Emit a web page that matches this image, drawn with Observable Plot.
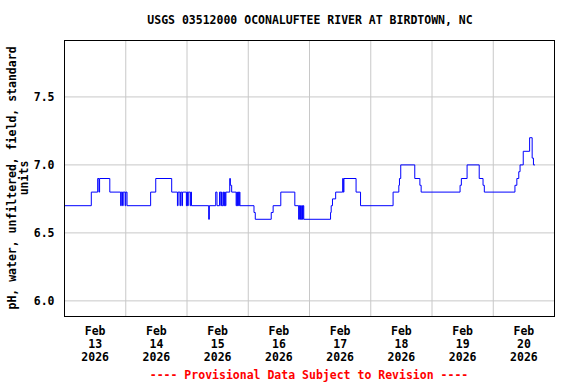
<!DOCTYPE html>
<html><head><meta charset="utf-8">
<script src="https://cdn.jsdelivr.net/npm/d3@7"></script>
<script src="https://cdn.jsdelivr.net/npm/@observablehq/plot@0.6"></script>
<style>body{margin:0;background:#fff}#chart svg{display:block}</style>
</head><body><div id="chart"></div>
<script>
const titleText = "USGS 03512000 OCONALUFTEE RIVER AT BIRDTOWN, NC";
const yLabelLines = ["pH, water, unfiltered, field, standard", "units"];
const captionText = "---- Provisional Data Subject to Revision ----";
const yTicks = [6.0, 6.5, 7.0, 7.5];
const dayLabels = ["2026-02-13","2026-02-14","2026-02-15","2026-02-16","2026-02-17","2026-02-18","2026-02-19","2026-02-20"];

const times = [
"2026-02-13T00:00","2026-02-13T10:30","2026-02-13T13:00","2026-02-13T13:30","2026-02-13T13:45","2026-02-13T17:45",
"2026-02-13T22:00","2026-02-13T22:15","2026-02-13T22:45","2026-02-13T23:00","2026-02-13T23:45","2026-02-14T00:00","2026-02-14T00:30",
"2026-02-14T09:45","2026-02-14T11:45","2026-02-14T18:00",
"2026-02-14T20:15","2026-02-14T20:30","2026-02-14T21:15","2026-02-14T21:30","2026-02-14T22:00","2026-02-14T22:15",
"2026-02-14T23:45","2026-02-15T00:00","2026-02-15T00:15","2026-02-15T00:30","2026-02-15T01:15","2026-02-15T01:30","2026-02-15T01:45",
"2026-02-15T08:30","2026-02-15T08:45",
"2026-02-15T11:15","2026-02-15T11:45","2026-02-15T12:45","2026-02-15T13:15","2026-02-15T13:30","2026-02-15T13:45",
"2026-02-15T14:15","2026-02-15T14:30","2026-02-15T14:45","2026-02-15T15:00","2026-02-15T15:15",
"2026-02-15T16:45","2026-02-15T17:00","2026-02-15T17:30",
"2026-02-15T19:15","2026-02-15T19:30","2026-02-15T19:45","2026-02-15T20:00","2026-02-15T20:15","2026-02-15T20:30","2026-02-15T20:45",
"2026-02-16T02:15","2026-02-16T02:45","2026-02-16T09:00","2026-02-16T09:45","2026-02-16T12:45","2026-02-16T18:15",
"2026-02-16T19:45","2026-02-16T20:00","2026-02-16T20:15","2026-02-16T20:30","2026-02-16T20:45","2026-02-16T21:00","2026-02-16T21:15","2026-02-16T21:30","2026-02-16T21:45",
"2026-02-17T08:15","2026-02-17T08:30","2026-02-17T09:00","2026-02-17T10:15","2026-02-17T13:00","2026-02-17T13:15","2026-02-17T13:30",
"2026-02-17T18:15","2026-02-17T20:00",
"2026-02-18T08:45","2026-02-18T11:00","2026-02-18T11:15","2026-02-18T11:45","2026-02-18T17:15","2026-02-18T19:15","2026-02-18T19:45",
"2026-02-19T11:00","2026-02-19T11:30","2026-02-19T13:45","2026-02-19T18:30","2026-02-19T20:00","2026-02-19T20:30",
"2026-02-20T08:30","2026-02-20T09:15","2026-02-20T10:00","2026-02-20T10:30","2026-02-20T11:45","2026-02-20T14:15","2026-02-20T15:15","2026-02-20T15:45","2026-02-20T16:15"
];
const values = [
6.7,6.8,6.9,6.8,6.9,6.8,
6.7,6.8,6.7,6.8,6.7,6.8,6.7,
6.8,6.9,6.8,
6.7,6.8,6.7,6.8,6.7,6.8,
6.7,6.8,6.7,6.8,6.7,6.8,6.7,
6.6,6.7,
6.8,6.7,6.8,6.7,6.8,6.7,
6.8,6.7,6.8,6.7,6.8,
6.9,6.85,6.8,
6.7,6.8,6.7,6.8,6.7,6.8,6.7,
6.65,6.6,6.65,6.7,6.8,6.7,
6.6,6.7,6.6,6.7,6.6,6.7,6.6,6.7,6.6,
6.65,6.7,6.75,6.8,6.9,6.8,6.9,
6.8,6.7,
6.8,6.85,6.9,7.0,6.9,6.85,6.8,
6.85,6.9,7.0,6.9,6.85,6.8,
6.85,6.9,6.95,7.0,7.1,7.2,7.05,7.0,7.0
];

const parse = s => new Date(s + ":00Z");
const data = times.map((t, i) => ({date: parse(t), value: values[i]}));
const dayStarts = dayLabels.map(d => new Date(d + "T00:00:00Z"));
const noons = dayStarts.map(d => new Date(+d + 12 * 3600e3));
const gridDays = dayStarts.slice(1);
const xStart = dayStarts[0];
const xEnd = new Date(+dayStarts[dayStarts.length - 1] + 24 * 3600e3);
const fmt = d3.utcFormat("%b\n%d\n%Y");

const W = 576, H = 384;
const font = "'DejaVu Sans Mono', monospace";

const chart = Plot.plot({
  width: W, height: H,
  marginLeft: 64, marginRight: 22, marginTop: 40, marginBottom: 68,
  style: {fontFamily: font, fontSize: "11.5px", fontWeight: "bold", background: "#fff", color: "#000"},
  x: {type: "utc", domain: [xStart, xEnd]},
  y: {domain: [5.885, 7.915]},
  marks: [
    Plot.gridX(gridDays, {stroke: "#c8c8c8", strokeOpacity: 1, strokeWidth: 1}),
    Plot.gridY(yTicks, {stroke: "#c8c8c8", strokeOpacity: 1, strokeWidth: 1}),
    Plot.axisX(noons, {tickSize: 0, tickPadding: 9, tickFormat: fmt, label: null, lineHeight: 1.13, fontWeight: "bold"}),
    Plot.axisY(yTicks, {tickSize: 0, tickPadding: 10, tickFormat: d3.format(".1f"), label: null, fontWeight: "bold"}),
    Plot.line(data, {x: "date", y: "value", curve: "step-after", stroke: "#0000ff", strokeWidth: 1}),
    Plot.frame({stroke: "#000", strokeWidth: 1})
  ]
});

const svg = d3.select(chart);
svg.append("text")
  .attr("x", 310).attr("y", 24)
  .attr("text-anchor", "middle")
  .attr("font-family", font).attr("font-size", "11.5px").attr("font-weight", "bold")
  .attr("fill", "#000")
  .text(titleText);

const yl = svg.append("text")
  .attr("transform", "translate(16,178) rotate(-90)")
  .attr("text-anchor", "middle")
  .attr("font-family", font).attr("font-size", "11.5px").attr("font-weight", "bold")
  .attr("fill", "#000");
yLabelLines.forEach((line, i) => {
  yl.append("tspan").attr("x", 0).attr("dy", i === 0 ? 0 : 12).text(line);
});

svg.append("text")
  .attr("x", 309).attr("y", 379)
  .attr("text-anchor", "middle")
  .attr("font-family", font).attr("font-size", "11.5px").attr("font-weight", "bold")
  .attr("fill", "#ff0000")
  .text(captionText);

document.getElementById("chart").appendChild(chart);
</script>
</body></html>
